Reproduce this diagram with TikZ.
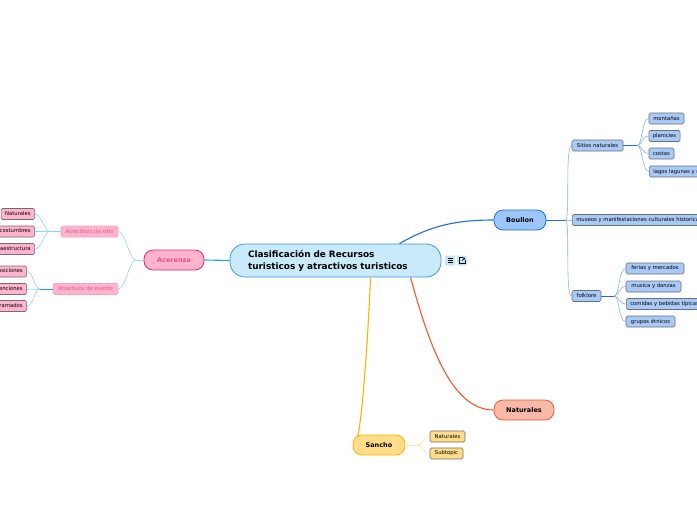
\documentclass[tikz,border=0pt]{standalone}
\usepackage{fontspec}
\setmainfont{DejaVu Sans}
\usetikzlibrary{calc}
\definecolor{cfill}{HTML}{C8EAFB}
\definecolor{cline}{HTML}{3A9AD9}
\definecolor{bfill}{HTML}{9CC6F9}
\definecolor{bline}{HTML}{1F6FD6}
\definecolor{bsub}{HTML}{A9C9F7}
\definecolor{blight}{HTML}{82B4F0}
\definecolor{afill}{HTML}{FFB3CC}
\definecolor{aline}{HTML}{E3286A}
\definecolor{atext}{HTML}{E0558A}
\definecolor{asubline}{HTML}{F7A3C1}
\definecolor{alight}{HTML}{8FD3F7}
\definecolor{astem}{HTML}{1EA0E6}
\definecolor{nfill}{HTML}{F9B9A8}
\definecolor{nline}{HTML}{F2582C}
\definecolor{sfill}{HTML}{FFDD88}
\definecolor{sline}{HTML}{F9B400}
\definecolor{slight}{HTML}{FBE3A6}
\definecolor{leafline}{HTML}{6E6E78}
\definecolor{iconfill}{HTML}{C4E6F8}
\tikzset{
  main/.style={draw=#1, line width=0.8pt, rounded corners=9pt, minimum height=20pt, inner sep=0pt, font=\fontsize{6.5}{7}\selectfont\bfseries},
  leaf/.style={draw=leafline, line width=0.6pt, rounded corners=1.5pt, minimum height=11pt, inner xsep=4pt, inner ysep=0pt, font=\fontsize{5.3}{6}\selectfont},
  icon/.style={fill=iconfill, rounded corners=1pt, minimum size=10pt, inner sep=0pt}
}
\begin{document}
\begin{tikzpicture}[x=1pt,y=-1pt]
\useasboundingbox[fill=white] (0,0) rectangle (697,520);

% ---------- central ----------
\node[draw=cline, fill=cfill, line width=0.8pt, rounded corners=15pt, text width=175pt, inner xsep=18pt, minimum height=33pt, inner ysep=0pt, align=left, font=\fontsize{8.9}{12}\selectfont\bfseries] (central) at (335.5,260.5) {Clasificación de Recursos\\turisticos y atractivos turisticos};
\node[icon] (ic1) at (450,260.5) {};
\node[icon] (ic2) at (462,260.5) {};
\draw[line width=0.7pt] ($(ic1.center)+(-2.5,-2)$) -- ++(5,0) ($(ic1.center)+(-2.5,0)$) -- ++(5,0) ($(ic1.center)+(-2.5,2)$) -- ++(5,0);
\draw[line width=0.6pt] ($(ic2.center)+(0.5,-2.8)$) -- ++(-3.3,0) -- ++(0,5.6) -- ++(5.6,0) -- ++(0,-3.3);
\draw[line width=0.6pt] ($(ic2.center)+(0,0.3)$) -- ++(2.6,-2.9) ($(ic2.center)+(1,-2.6)$) -- ++(1.6,0) -- ++(0,1.6);

% ---------- main topics ----------
\node[main=bline, fill=bfill, minimum width=52pt] (boullon) at (520,220) {Boullon};
\node[main=nline, fill=nfill, minimum width=60pt] (natur) at (524,410) {Naturales};
\node[main=sline, fill=sfill, minimum width=52pt] (sancho) at (379,445) {Sancho};
\node[main=aline, fill=afill, text=atext, minimum width=60pt] (acerenza) at (174,260) {Acerenza};

% main connectors
\draw[bline, line width=1.1pt] ($(central.north)+(64,0)$) .. controls (430,226) and (455,220) .. (boullon.west);
\draw[nline, line width=1.1pt] ($(central.south)+(75,0)$) .. controls (428,340) and (450,410) .. (natur.west);
\draw[sline, line width=1.1pt] ($(central.south)+(35,0)$) .. controls (368,340) and (362,420) .. ($(sancho.north west)+(5,2)$);
\draw[astem, line width=1.1pt] (central.west) -- (acerenza.east);

% ---------- Boullon branch ----------
\node[leaf, fill=bsub, minimum width=51pt] (sitios) at (597.5,145.5) {Sitios naturales};
\node[leaf, fill=bsub, anchor=west] (museos) at (572,220) {museos y manifestaciones culturales historicas};
\node[leaf, fill=bsub, minimum width=29pt] (folk) at (586.5,296) {folklore};

\node[leaf, fill=bsub, minimum width=35pt] (mont) at (666.5,118.5) {montañas};
\node[leaf, fill=bsub, minimum width=31pt] (plan) at (664.5,136) {planicies};
\node[leaf, fill=bsub, minimum width=25pt] (cost) at (661.5,153.5) {costas};
\node[leaf, fill=bsub, anchor=west] (lagos) at (649,171.5) {lagos lagunas y ríos};

\node[leaf, fill=bsub, minimum width=58pt] (ferias) at (655,268.5) {ferias y mercados};
\node[leaf, fill=bsub, minimum width=55pt] (musica) at (653.5,286.5) {musica y danzas};
\node[leaf, fill=bsub, anchor=west] (comidas) at (626,304) {comidas y bebidas típicas};
\node[leaf, fill=bsub, minimum width=49pt] (grupos) at (650.5,321.5) {grupos étnicos};

\draw[bline, line width=0.9pt] (boullon.east) -- ++(19,0) coordinate (jb);
\foreach \c in {sitios,museos,folk}
  \draw[blight, line width=0.6pt] (jb) .. controls +(5,0) and +(-7,0) .. (\c.west);
\draw[bline, line width=0.9pt] (sitios.east) -- ++(14,0) coordinate (js);
\foreach \c in {mont,plan,cost,lagos}
  \draw[blight, line width=0.6pt] (js) .. controls +(5,0) and +(-7,0) .. (\c.west);
\draw[bline, line width=0.9pt] (folk.east) -- ++(13,0) coordinate (jf);
\foreach \c in {ferias,musica,comidas,grupos}
  \draw[blight, line width=0.6pt] (jf) .. controls +(5,0) and +(-7,0) .. (\c.west);

% ---------- Acerenza branch ----------
\node[leaf, draw=asubline, fill=afill, text=atext, minimum width=57pt] (sitio) at (89.5,231.5) {Atractivos de sitio};
\node[leaf, draw=asubline, fill=afill, text=atext, minimum width=65pt] (evento) at (85.5,289) {Atractivos de evento};

\node[leaf, fill=afill, anchor=east] (anat) at (35,214) {Naturales};
\node[leaf, fill=afill, anchor=east] (ausos) at (35,231.5) {Usos y costumbres};
\node[leaf, fill=afill, anchor=east] (ainfra) at (35,249) {Infraestructura};
\node[leaf, fill=afill, anchor=east] (aexpo) at (27,271.5) {Exposiciones};
\node[leaf, fill=afill, anchor=east] (aconv) at (27,289) {Convenciones};
\node[leaf, fill=afill, anchor=east] (aprog) at (27,306) {Eventos programados};

\draw[alight, line width=0.9pt] (acerenza.west) -- ++(-8,0) coordinate (ja);
\foreach \c in {sitio,evento}
  \draw[alight, line width=0.6pt] (ja) .. controls +(-6,0) and +(7,0) .. (\c.east);
\draw[alight, line width=0.9pt] (sitio.west) -- ++(-11,0) coordinate (jas);
\foreach \c in {anat,ausos,ainfra}
  \draw[alight, line width=0.6pt] (jas) .. controls +(-5,0) and +(6,0) .. (\c.east);
\draw[astem, line width=0.9pt] (evento.west) -- ++(-13,0) coordinate (jae);
\foreach \c in {aexpo,aconv,aprog}
  \draw[alight, line width=0.6pt] (jae) .. controls +(-5,0) and +(6,0) .. (\c.east);

% ---------- Sancho branch ----------
\node[leaf, fill=sfill, minimum width=35pt] (snat) at (447.5,436.5) {Naturales};
\node[leaf, fill=sfill, minimum width=33pt] (ssub) at (446.5,453.5) {Subtopic};
\draw[slight, line width=0.9pt] (sancho.east) -- ++(13,0) coordinate (jsa);
\foreach \c in {snat,ssub}
  \draw[slight, line width=0.6pt] (jsa) .. controls +(4,0) and +(-6,0) .. (\c.west);
\end{tikzpicture}
\end{document}
